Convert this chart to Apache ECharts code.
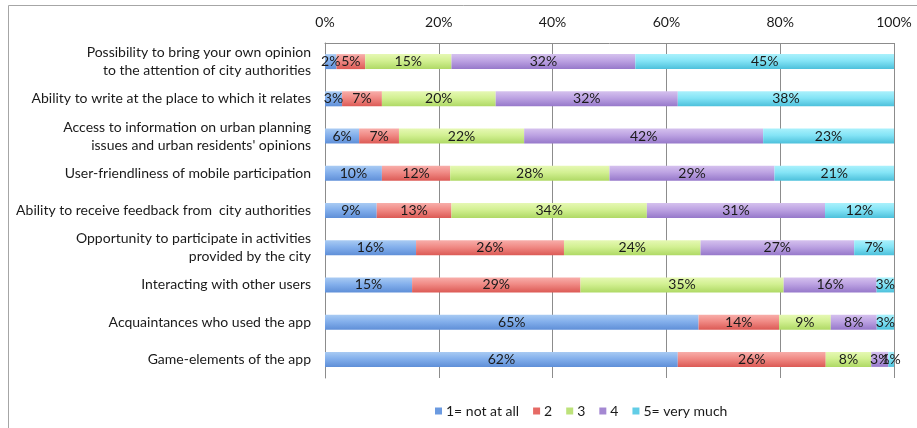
<!DOCTYPE html>
<html>
<head>
<meta charset="utf-8">
<script src="https://cdn.jsdelivr.net/npm/echarts@6/dist/echarts.min.js"></script>
<style>
html,body{margin:0;padding:0;background:#fff;}
#chart{width:917px;height:428px;}
</style>
</head>
<body>
<div id="chart"></div>
<script>
var categories = [
  "Possibility to bring your own opinion\nto the attention of city authorities",
  "Ability to write at the place to which it relates",
  "Access to information on urban planning\nissues and urban residents' opinions",
  "User-friendliness of mobile participation",
  "Ability to receive feedback from  city authorities",
  "Opportunity to participate in activities\nprovided by the city",
  "Interacting with other users",
  "Acquaintances who used the app",
  "Game-elements of the app"
];
var seriesNames = ["1= not at all", "2", "3", "4", "5= very much"];
var s1 = [2, 3, 6, 10, 9, 16, 15, 65, 62];
var s2 = [5, 7, 7, 12, 13, 26, 29, 14, 26];
var s3 = [15, 20, 22, 28, 34, 24, 35, 9, 8];
var s4 = [32, 32, 42, 29, 31, 27, 16, 8, 3];
var s5 = [45, 38, 23, 21, 12, 7, 3, 3, 1];
var xTicks = [0, 20, 40, 60, 80, 100];

var allSeries = [s1, s2, s3, s4, s5];
var colors = [
  ["#a9cbf3", "#84b0ec", "#5f8fd8"],
  ["#f8aeaa", "#f08a85", "#dc5a55"],
  ["#e6f8b4", "#d2f092", "#afd965"],
  ["#d5c1ee", "#bca2e2", "#9678ca"],
  ["#aaf1fc", "#84e4f6", "#4cc0db"]
];
var legendColors = ["#6b9ae0", "#e66a65", "#bde27a", "#a488d2", "#62cde6"];

var totals = categories.map(function (c, i) {
  return allSeries.reduce(function (a, s) { return a + s[i]; }, 0);
});

var series = allSeries.map(function (s, k) {
  return {
    name: seriesNames[k],
    type: 'bar',
    stack: 'total',
    barWidth: 15,
    itemStyle: {
      color: new echarts.graphic.LinearGradient(0, 0, 0, 1, [
        {offset: 0, color: colors[k][0]},
        {offset: 0.45, color: colors[k][1]},
        {offset: 1, color: colors[k][2]}
      ])
    },
    label: {
      show: true,
      position: 'inside',
      color: '#1a1a1a',
      fontFamily: 'Lato',
      fontSize: 14,
      formatter: function (p) { return s[p.dataIndex] + '%'; }
    },
    data: s.map(function (v, i) { return v / totals[i] * 100; })
  };
});

var chart = echarts.init(document.getElementById('chart'), null, {renderer: 'canvas'});
chart.setOption({
  animation: false,
  color: legendColors,
  graphic: [{
    type: 'rect',
    shape: {x: 8.5, y: 5.5, width: 940, height: 440},
    style: {fill: 'none', stroke: '#a6a6a6', lineWidth: 1},
    silent: true
  }],
  grid: {left: 325, top: 43, right: 23, bottom: 50, containLabel: false},
  legend: {
    data: seriesNames.map(function (n, k) {
      return {name: n, itemStyle: {color: legendColors[k]}};
    }),
    top: 399,
    left: 430,
    itemWidth: 7,
    itemHeight: 7,
    itemGap: 14,
    icon: 'rect',
    textStyle: {fontFamily: 'Lato', fontSize: 14, color: '#1a1a1a', padding: [0, 0, 0, -1]}
  },
  xAxis: {
    type: 'value',
    position: 'top',
    min: 0,
    max: 100,
    interval: 20,
    axisLine: {show: true, lineStyle: {color: '#8c8c8c'}},
    axisTick: {show: false},
    splitLine: {show: true, lineStyle: {color: '#8c8c8c', width: 1}},
    axisLabel: {
      fontFamily: 'Lato', fontSize: 14, color: '#1a1a1a', margin: 14,
      formatter: function (v) { return xTicks.indexOf(v) >= 0 ? v + '%' : ''; }
    }
  },
  yAxis: {
    type: 'category',
    inverse: true,
    data: categories,
    axisLine: {show: true, lineStyle: {color: '#8c8c8c'}},
    axisTick: {show: false},
    axisLabel: {
      fontFamily: 'Lato', fontSize: 14, color: '#1a1a1a', margin: 14,
      align: 'right', lineHeight: 18
    }
  },
  series: series
});
</script>
</body>
</html>
